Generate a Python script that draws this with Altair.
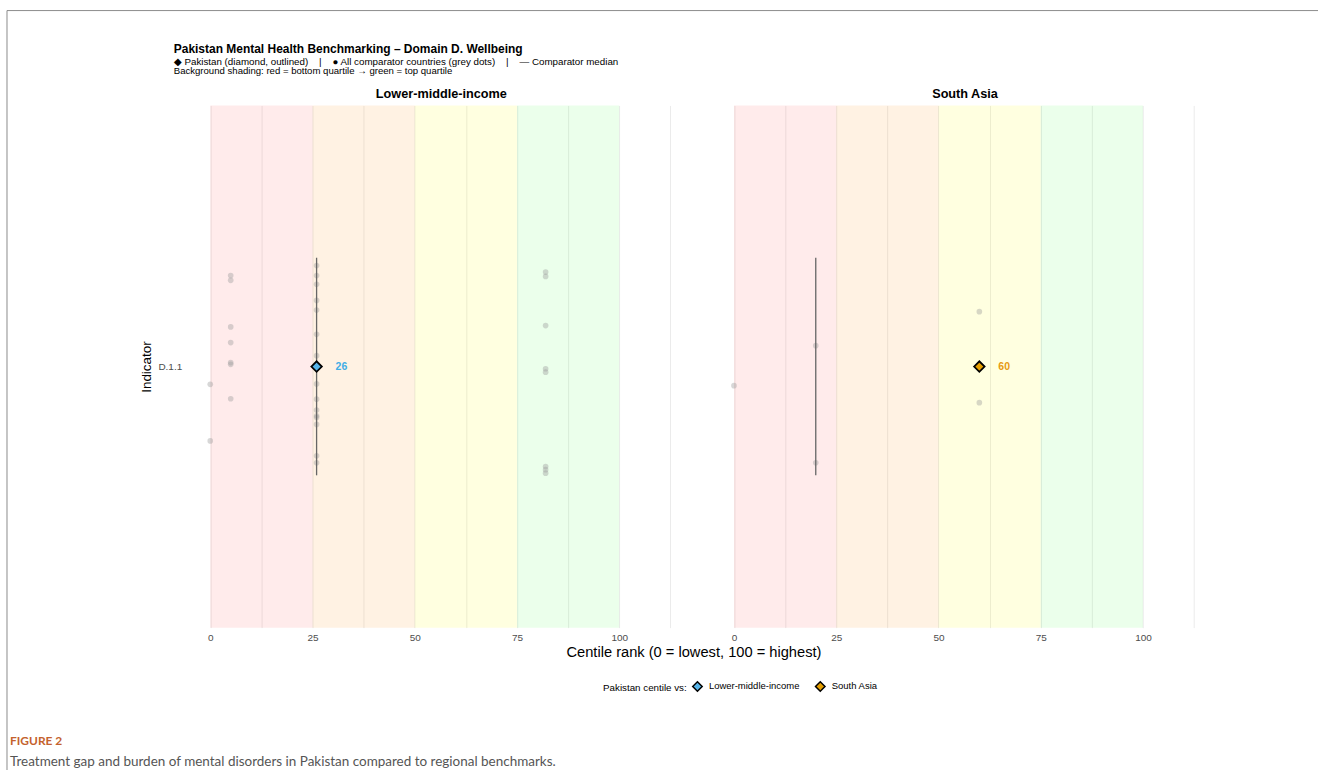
import altair as alt
import pandas as pd

# ---------------- data ----------------
groups = ["Lower-middle-income", "South Asia"]

lmi_centile = [5, 5, 5, 5, 5, 5, 5,
               0, 0,
               26, 26, 26, 26, 26, 26, 26, 26, 26, 26, 26, 26, 26, 26, 26,
               82, 82, 82, 82, 82, 82, 82, 82]
lmi_jitter = [0.209, 0.198, 0.091, 0.055, 0.009, 0.005, -0.074,
              -0.041, -0.171,
              0.232, 0.209, 0.189, 0.152, 0.130, 0.074, 0.025, -0.040, -0.075,
              -0.100, -0.113, -0.117, -0.133, -0.205, -0.221,
              0.217, 0.207, 0.094, -0.005, -0.013, -0.230, -0.237, -0.245]

sa_centile = [0, 20, 20, 60, 60]
sa_jitter = [-0.044, 0.048, -0.221, 0.126, -0.083]

pakistan_centile = [26, 60]
median_centile = [26, 20]
pak_colors = ["#56B4E9", "#E69F00"]
label_colors = ["#3FAEE6", "#E69A12"]

band_start = [0, 25, 50, 75]
band_end = [25, 50, 75, 100]
band_colors = ["#FF0000", "#FF8C00", "#FFFF00", "#00FF00"]
band_opacity = [0.08, 0.11, 0.12, 0.08]

x_ticks = [0, 12.5, 25, 37.5, 50, 62.5, 75, 87.5, 100, 112.5]
indicator = "D.1.1"

NB = "\u00a0"
SEP = NB * 4 + "|" + NB * 4
title_text = "Pakistan Mental Health Benchmarking \u2013 Domain D. Wellbeing"
subtitle_1 = ("\u25c6 Pakistan (diamond, outlined)" + SEP +
              "\u25cf All comparator countries (grey dots)" + SEP +
              "\u2014 Comparator median")
subtitle_2 = "Background shading: red = bottom quartile \u2192 green = top quartile"
x_title = "Centile rank (0 = lowest, 100 = highest)"
fig_label = "FIGURE 2"
fig_caption = "Treatment gap and burden of mental disorders in Pakistan compared to regional benchmarks."

# ---------------- layout constants ----------------
W, H = 512, 523
FONT = "Liberation Sans"

bands = pd.DataFrame({"start": band_start, "end": band_end,
                      "y0": [0.4] * 4, "y1": [1.6] * 4,
                      "col": band_colors, "op": band_opacity})


def x_enc(field):
    return alt.X(field, type="quantitative",
                 scale=alt.Scale(domain=[-6, 119], nice=False, zero=False),
                 axis=alt.Axis(values=x_ticks,
                               labelExpr="datum.value % 25 === 0 ? datum.label : ''",
                               grid=True, gridColor="#EBEBEB", gridWidth=1,
                               ticks=False, domain=False, labelFontSize=10,
                               labelColor="#4D4D4D", labelPadding=5, title=None,
                               labelFont=FONT))


def y_enc(field, show):
    if show:
        ax = alt.Axis(values=[1], labelExpr="'" + indicator + "'", grid=False,
                      ticks=False, domain=False, title="Indicator",
                      titleFontSize=13.5, titleFontWeight="normal", titleColor="black",
                      titleFont=FONT, labelFont=FONT, labelFontSize=10,
                      labelColor="#4D4D4D", labelPadding=4, titlePadding=4)
    else:
        ax = None
    return alt.Y(field, type="quantitative",
                 scale=alt.Scale(domain=[0.4, 1.6], nice=False, zero=False),
                 axis=ax)


def text_layer(txt, x, y, size, color="black", weight="normal", align="left",
               font=FONT):
    return alt.Chart(pd.DataFrame({"t": [txt]})).mark_text(
        align=align, baseline="alphabetic", fontSize=size, color=color,
        fontWeight=weight, font=font
    ).encode(text="t:N", x=alt.value(x), y=alt.value(y))


def panel(i, centiles, jitters, show_y):
    comp = pd.DataFrame({"x": centiles, "y": [1 + j for j in jitters]})
    med = pd.DataFrame({"x": [median_centile[i]], "y": [0.75], "y2": [1.25]})
    pak = pd.DataFrame({"x": [pakistan_centile[i]], "y": [1.0],
                        "group": [groups[i]],
                        "label": [str(pakistan_centile[i])],
                        "lc": [label_colors[i]]})

    band_layer = alt.Chart(bands).mark_rect().encode(
        x=x_enc("start"), x2="end",
        y=y_enc("y0", show_y), y2="y1",
        color=alt.Color("col:N", scale=None),
        opacity=alt.Opacity("op:Q", scale=None))

    dots = alt.Chart(comp).mark_circle(size=32, color="#9A9A9A", opacity=0.4).encode(
        x=x_enc("x"), y=y_enc("y", show_y))

    median = alt.Chart(med).mark_rule(color="#666666", strokeWidth=1.3).encode(
        x=x_enc("x"), y=y_enc("y", show_y), y2="y2")

    diamond = alt.Chart(pak).mark_point(
        shape="diamond", filled=True, size=110, stroke="black",
        strokeWidth=1.8, opacity=1).encode(
        x=x_enc("x"), y=y_enc("y", show_y),
        color=alt.Color("group:N",
                        scale=alt.Scale(domain=groups, range=pak_colors),
                        legend=alt.Legend(
                            title="Pakistan centile vs:", orient="none",
                            legendX=418, legendY=576, direction="horizontal",
                            titleOrient="left", titleFontSize=9.8,
                            titleFontWeight="normal", titleFont=FONT,
                            titleColor="black", titlePadding=5,
                            labelFontSize=9.5, labelFont=FONT, labelColor="black",
                            symbolType="diamond", symbolSize=90,
                            symbolStrokeColor="black", symbolStrokeWidth=1.5,
                            symbolOpacity=1, columnPadding=12, labelOffset=6)))

    lbl = alt.Chart(pak).mark_text(align="left", dx=19, fontSize=10.5,
                                   fontWeight="bold", font=FONT).encode(
        x=x_enc("x"), y=y_enc("y", show_y), text="label:N",
        color=alt.Color("lc:N", scale=None))

    strip = text_layer(groups[i], W / 2, -7, 12.7, weight="bold", align="center")

    layers = [band_layer, dots, median, diamond, lbl, strip]

    if show_y:
        border_top = alt.Chart(pd.DataFrame({"k": [0]})).mark_rule(
            color="#8C8C8C", strokeWidth=1).encode(
            x=alt.value(-179), x2=alt.value(1134), y=alt.value(-95))
        border_left = alt.Chart(pd.DataFrame({"k": [0]})).mark_rule(
            color="#8C8C8C", strokeWidth=1).encode(
            x=alt.value(-179), y=alt.value(-95), y2=alt.value(666))
        layers += [
            border_top, border_left,
            text_layer(title_text, -12, -53, 12, weight="bold"),
            text_layer(subtitle_1, -12, -40, 9.8),
            text_layer(subtitle_2, -12, -31, 9.6),
            text_layer(x_title, 509, 552, 14.7, align="center"),
            text_layer(fig_label, -176, 641, 12, color="#C4622D", weight="bold",
                       font="Lato"),
            text_layer(fig_caption, -176, 662, 13.5, color="#555555", font="Lato"),
        ]

    return alt.layer(*layers).properties(width=W, height=H)


left = panel(0, lmi_centile, lmi_jitter, True)
right = panel(1, sa_centile, sa_jitter, False)

chart = alt.hconcat(left, right, spacing=12.5, bounds="flush").resolve_scale(
    color="shared").resolve_legend(color="shared").properties(
    padding={"left": 6, "top": 9, "right": 0, "bottom": 0}
).configure(font=FONT, background="white").configure_view(
    strokeWidth=0, stroke="transparent")

chart.save("out.html", embed_options={"renderer": "svg", "actions": False})
